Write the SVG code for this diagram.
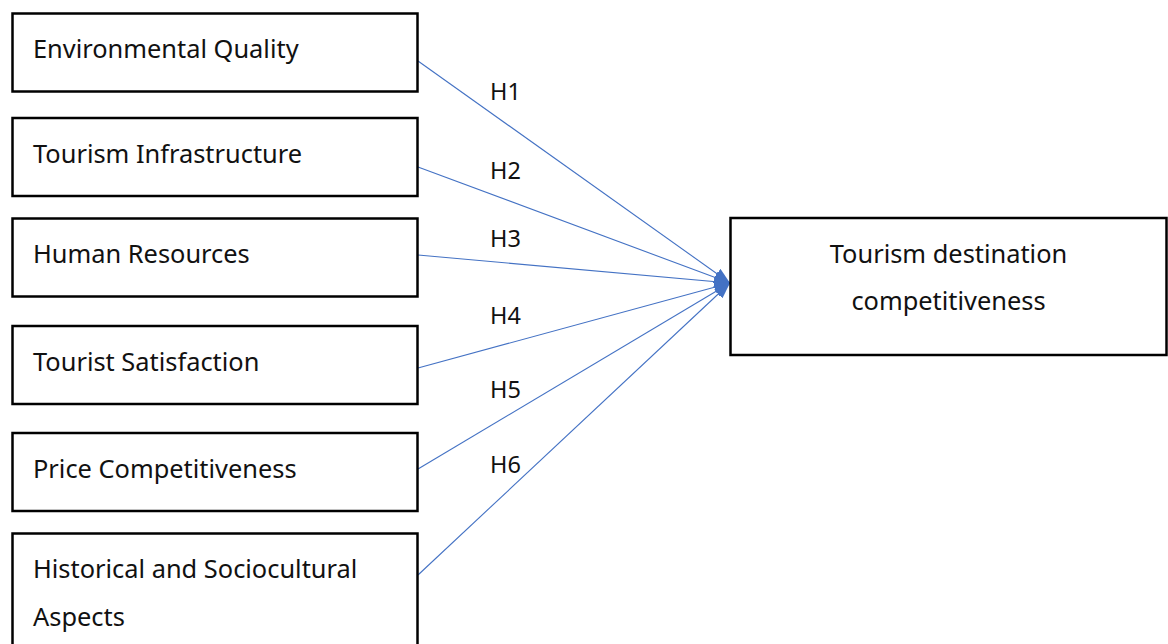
<svg xmlns="http://www.w3.org/2000/svg" width="1168" height="644" viewBox="0 0 1168 644">
  <style>
    .box { fill: #ffffff; stroke: #000000; stroke-width: 2.5; }
    .lbl { font-family: "Noto Sans", "Open Sans", sans-serif; font-size: 25.4px; fill: #111111; }
    .h { font-family: "Noto Sans", "Open Sans", sans-serif; font-size: 23.5px; fill: #111111; }
    .conn { stroke: #4472C4; stroke-width: 1.1; fill: none; marker-end: url(#arrow); }
  </style>
  <defs>
    <marker id="arrow" markerUnits="userSpaceOnUse" markerWidth="16" markerHeight="12" refX="16" refY="6" orient="auto">
      <path d="M0,0 L16,6 L0,12 z" fill="#4472C4"/>
    </marker>
  </defs>
  <rect width="1168" height="644" fill="#ffffff"/>

  <g id="connectors">
    <line class="conn" x1="418" y1="61" x2="730" y2="283"/>
    <line class="conn" x1="418" y1="167" x2="730" y2="283"/>
    <line class="conn" x1="418" y1="255" x2="730" y2="283"/>
    <line class="conn" x1="418" y1="368" x2="730" y2="283"/>
    <line class="conn" x1="418" y1="469" x2="730" y2="283"/>
    <line class="conn" x1="418" y1="575" x2="730" y2="283"/>
    <text class="h" x="490" y="100">H1</text>
    <text class="h" x="490" y="179">H2</text>
    <text class="h" x="490" y="247">H3</text>
    <text class="h" x="490" y="324">H4</text>
    <text class="h" x="490" y="398">H5</text>
    <text class="h" x="490" y="473">H6</text>
  </g>

  <g id="environmental-quality">
    <rect class="box" x="12.5" y="13.5" width="405" height="78"/>
    <text class="lbl" x="33" y="58">Environmental Quality</text>
  </g>
  <g id="tourism-infrastructure">
    <rect class="box" x="12.5" y="118" width="405" height="78"/>
    <text class="lbl" x="33" y="163">Tourism Infrastructure</text>
  </g>
  <g id="human-resources">
    <rect class="box" x="12.5" y="218.5" width="405" height="78"/>
    <text class="lbl" x="33" y="263">Human Resources</text>
  </g>
  <g id="tourist-satisfaction">
    <rect class="box" x="12.5" y="326" width="405" height="78"/>
    <text class="lbl" x="33" y="371">Tourist Satisfaction</text>
  </g>
  <g id="price-competitiveness">
    <rect class="box" x="12.5" y="433" width="405" height="78"/>
    <text class="lbl" x="33" y="478">Price Competitiveness</text>
  </g>
  <g id="historical-sociocultural">
    <rect class="box" x="12.5" y="533.5" width="405" height="120"/>
    <text class="lbl" x="33" y="578">Historical and Sociocultural</text>
    <text class="lbl" x="33" y="626">Aspects</text>
  </g>
  <g id="tourism-destination-competitiveness">
    <rect class="box" x="730.5" y="218" width="436" height="137"/>
    <text class="lbl" x="948.5" y="263" text-anchor="middle">Tourism destination</text>
    <text class="lbl" x="948.5" y="310" text-anchor="middle">competitiveness</text>
  </g>
</svg>
